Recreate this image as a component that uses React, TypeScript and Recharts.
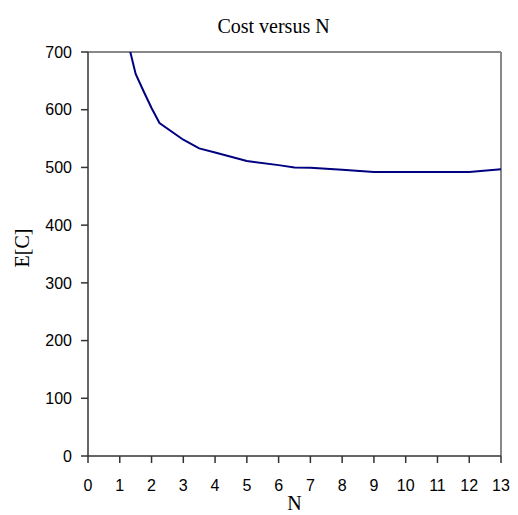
import React from 'react'
import { LineChart, Line, XAxis, YAxis, ReferenceLine, Label } from 'recharts'

// values
const nValues = [1, 1.5, 1.75, 2, 2.25, 3, 3.5, 4, 5, 6, 6.5, 7, 8, 9, 10, 11, 12, 13]
const costValues = [775, 662, 632, 603, 577, 548, 533, 526, 511, 504, 500, 499.5, 496, 492, 492, 492, 492, 497]
const xTicks = [0, 1, 2, 3, 4, 5, 6, 7, 8, 9, 10, 11, 12, 13]
const yTicks = [0, 100, 200, 300, 400, 500, 600, 700]

const data = nValues.map((n, i) => ({ n, cost: costValues[i] }))

const tickFont = { fontSize: 16, fill: '#000', fontFamily: '"Liberation Sans", Arial, sans-serif' }
const serif = '"Liberation Serif", "Times New Roman", serif'

export default function App() {
  return (
    <div style={{ position: 'absolute', left: 0, top: 0, background: '#fff' }}>
      <LineChart
        width={518}
        height={515}
        data={data}
        margin={{ top: 52, right: 17, bottom: 19, left: 0 }}
      >
        <text x={273.5} y={33} textAnchor="middle" fontFamily={serif} fontSize={20} fill="#000">
          Cost versus N
        </text>
        <ReferenceLine y={700} stroke="#888" strokeWidth={2} />
        <ReferenceLine x={13} stroke="#888" strokeWidth={2} />
        <XAxis
          dataKey="n"
          type="number"
          domain={[0, 13]}
          ticks={xTicks}
          allowDataOverflow
          interval={0}
          height={40}
          tick={tickFont}
          tickSize={7}
          tickMargin={17}
          stroke="#333"
          strokeWidth={1.5}
        >
          <Label
            value="N"
            position="insideBottom"
            offset={-14}
            style={{ fontFamily: serif, fontSize: 20, fill: '#000' }}
          />
        </XAxis>
        <YAxis
          type="number"
          domain={[0, 700]}
          ticks={yTicks}
          allowDataOverflow
          interval={0}
          width={88}
          tick={tickFont}
          tickSize={7}
          tickMargin={9}
          stroke="#333"
          strokeWidth={1.5}
        >
          <Label
            value="E[C]"
            angle={-90}
            position="insideLeft"
            offset={22}
            dy={-6}
            style={{ fontFamily: serif, fontSize: 20, fill: '#000', textAnchor: 'middle' }}
          />
        </YAxis>
        <Line
          type="linear"
          dataKey="cost"
          stroke="#000080"
          strokeWidth={2}
          dot={false}
          isAnimationActive={false}
        />
      </LineChart>
    </div>
  )
}
